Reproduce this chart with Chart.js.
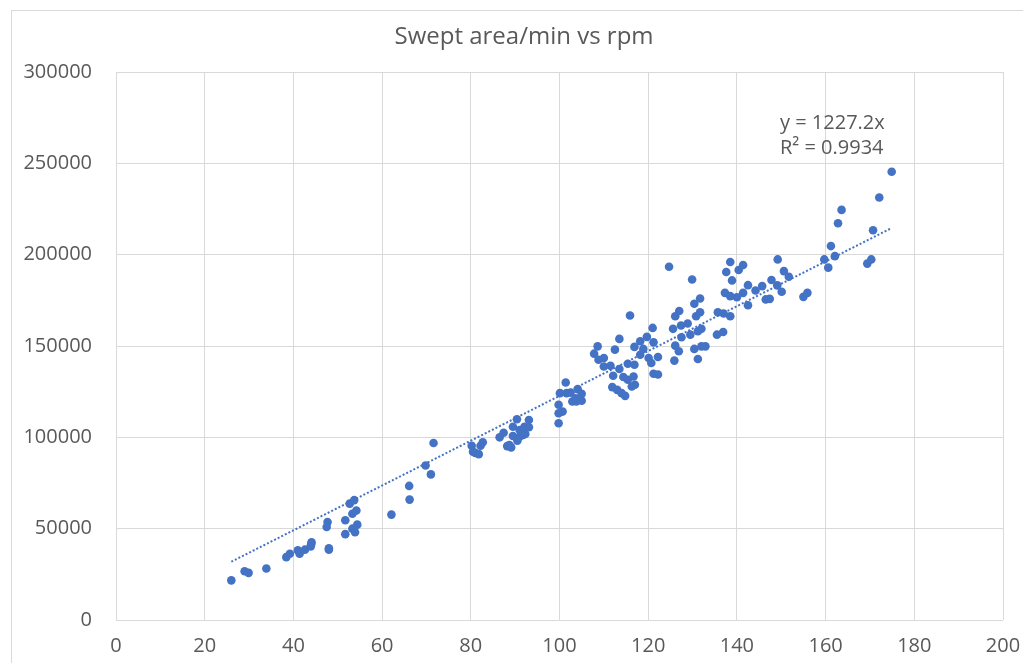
<!DOCTYPE html>
<html>
<head>
<meta charset="utf-8">
<script src="https://cdn.jsdelivr.net/npm/chart.js@4.4.0/dist/chart.umd.min.js"></script>
<style>
  html, body { margin: 0; padding: 0; background: #fff; overflow: hidden; }
  #frame { position: absolute; left: 11px; top: 10px; width: 1100px; height: 700px; border: 1px solid #d9d9d9; }
  #wrap { position: absolute; left: 0; top: 0; width: 1023px; height: 663px; }
</style>
</head>
<body>
<div id="frame"></div>
<div id="wrap"><canvas id="myChart"></canvas></div>
<script>
// rpm readings (x) and swept area per minute (y)
const rpm = [
  26.0, 29.0, 29.9, 33.9, 38.4, 39.2, 41.0, 41.4, 42.6, 43.9, 44.1, 44.0, 48.0, 48.0, 47.7, 47.5,
  51.7, 51.7, 52.7, 53.7, 53.3, 54.2, 53.3, 54.4, 53.9, 62.1, 66.1, 66.2, 69.8, 71.0, 71.6,
  80.2, 80.5, 81.0, 81.8, 82.2, 82.7,
  86.5, 87.4, 88.2, 89.1, 89.5, 89.5, 90.4, 91.0, 91.0, 91.8, 92.3, 92.1, 93.1, 93.1, 88.7, 90.5,
  99.8, 99.8, 100.7, 99.8, 100.1, 101.4, 101.6, 102.5, 102.9, 103.8, 104.1, 105.0, 105.0, 103.6,
  107.8, 108.6, 108.8, 110.0, 110.0, 111.5, 112.1, 112.5, 113.5, 113.5, 111.9, 113.0, 114.0, 114.8,
  114.4, 115.4, 116.7, 117.0, 116.3, 115.4, 116.9, 115.9, 116.9, 118.2, 118.9, 118.2, 119.7, 120.1,
  120.7, 121.2, 122.2, 122.2, 121.2, 121.0, 124.7, 125.6, 126.1, 127.0, 126.1, 126.9, 125.9, 127.4,
  127.5, 128.9, 129.5, 129.9, 130.4, 131.7, 130.8, 131.2, 132.0, 131.7, 131.2, 130.4, 132.0, 132.9,
  135.7, 137.0, 138.5, 135.5, 136.9, 137.3, 138.5, 140.0, 138.5, 137.6, 138.9, 140.4, 141.4, 141.4,
  142.5, 142.5, 144.2, 145.7, 146.5, 147.4, 147.8, 149.1, 149.2, 150.6, 151.7, 150.1, 155.0, 155.9,
  159.7, 160.6, 161.2, 162.1, 162.8, 163.6, 169.4, 170.3, 170.7, 172.1, 174.9
];
const sweptArea = [
  21700, 26700, 25800, 28200, 34400, 36300, 38100, 36300, 38500, 40300, 42600, 41400, 39300, 38500, 53600, 50900,
  54600, 47000, 63700, 65600, 58200, 59900, 50000, 52200, 48000, 57700, 73400, 65900, 84600, 79700, 96900,
  95400, 92100, 91500, 90800, 95400, 97300,
  100000, 102500, 95200, 94500, 100700, 105800, 109900, 104000, 100300, 101300, 101800, 105800, 109500, 105500, 95800, 98100,
  107700, 113200, 114100, 117800, 124200, 130000, 124200, 124500, 119600, 119600, 126400, 123800, 120000, 121400,
  145800, 149800, 142500, 143400, 138800, 139200, 133700, 148000, 153900, 137400, 127500, 126000, 124200, 122700,
  133000, 131500, 133300, 128800, 127800, 140300, 139700, 166700, 149500, 152600, 148400, 145200, 155000, 143400,
  140700, 134800, 134400, 144000, 152000, 159900, 193400, 159400, 166300, 169200, 150200, 147100, 142000, 161200,
  154800, 162300, 156200, 186400, 173100, 176000, 166300, 158100, 159400, 168500, 142900, 148400, 149800, 149800,
  168500, 167800, 166300, 156200, 157700, 179100, 177300, 176700, 196000, 190500, 185900, 191600, 194300, 179100,
  183300, 172300, 180400, 182800, 175500, 175800, 186100, 183200, 197400, 191000, 187900, 179700, 176900, 179100,
  197400, 192900, 204700, 199200, 217200, 224500, 195100, 197400, 213400, 231300, 245400
];
// linear trendline through origin, y = 1227.2x, drawn over the data range
const trendX = [26.0, 174.9];
const trendY = [31900, 214600];
const trendLabel = ['y = 1227.2x', 'R\u00B2 = 0.9934'];
const chartTitle = 'Swept area/min vs rpm';

const textColor = '#595959';
const gridColor = '#d9d9d9';
const blue = '#4472C4';
const font = '"Open Sans", "DejaVu Sans", sans-serif';

const points = rpm.map((x, i) => ({ x: x, y: sweptArea[i] }));
const trend = trendX.map((x, i) => ({ x: x, y: trendY[i] }));

// title and trendline label, drawn like the spreadsheet does
const textPlugin = {
  id: 'texts',
  afterDraw(chart) {
    const c = chart.ctx;
    c.save();
    c.fillStyle = textColor;
    c.font = '24px ' + font;
    c.textAlign = 'center';
    c.textBaseline = 'middle';
    c.fillText(chartTitle, 524, 37);
    c.font = '20px ' + font;
    c.textAlign = 'left';
    c.fillText(trendLabel[0], 780, 123);
    c.fillText(trendLabel[1], 780, 148);
    c.restore();
  }
};

const ctx = document.getElementById('myChart');
new Chart(ctx, {
  type: 'scatter',
  data: {
    datasets: [{
      label: 'Swept area/min',
      data: points,
      backgroundColor: blue,
      borderWidth: 0,
      pointRadius: 4.3,
      order: 2
    }, {
      type: 'line',
      label: 'Linear',
      data: trend,
      borderColor: blue,
      borderWidth: 2,
      borderDash: [2, 2],
      pointRadius: 0,
      fill: false,
      order: 1
    }]
  },
  options: {
    responsive: true,
    maintainAspectRatio: false,
    animation: false,
    layout: { padding: { top: 72, right: 20, left: 0, bottom: 0 } },
    plugins: { legend: { display: false }, tooltip: { enabled: false } },
    scales: {
      x: {
        type: 'linear',
        min: 0, max: 200,
        afterFit(s) { s.height = 43; s.paddingRight = 0; s.paddingLeft = 0; },
        ticks: { stepSize: 20, color: textColor, padding: 14, font: { family: font, size: 20 } },
        grid: { color: gridColor, drawTicks: false },
        border: { display: false }
      },
      y: {
        min: 0, max: 300000,
        afterFit(s) { s.width = 116; s.paddingTop = 0; s.paddingBottom = 0; },
        ticks: { stepSize: 50000, color: textColor, padding: 24, font: { family: font, size: 20 },
          callback: (v) => String(v) },
        grid: { color: gridColor, drawTicks: false },
        border: { display: false }
      }
    }
  },
  plugins: [textPlugin]
});
</script>
</body>
</html>
